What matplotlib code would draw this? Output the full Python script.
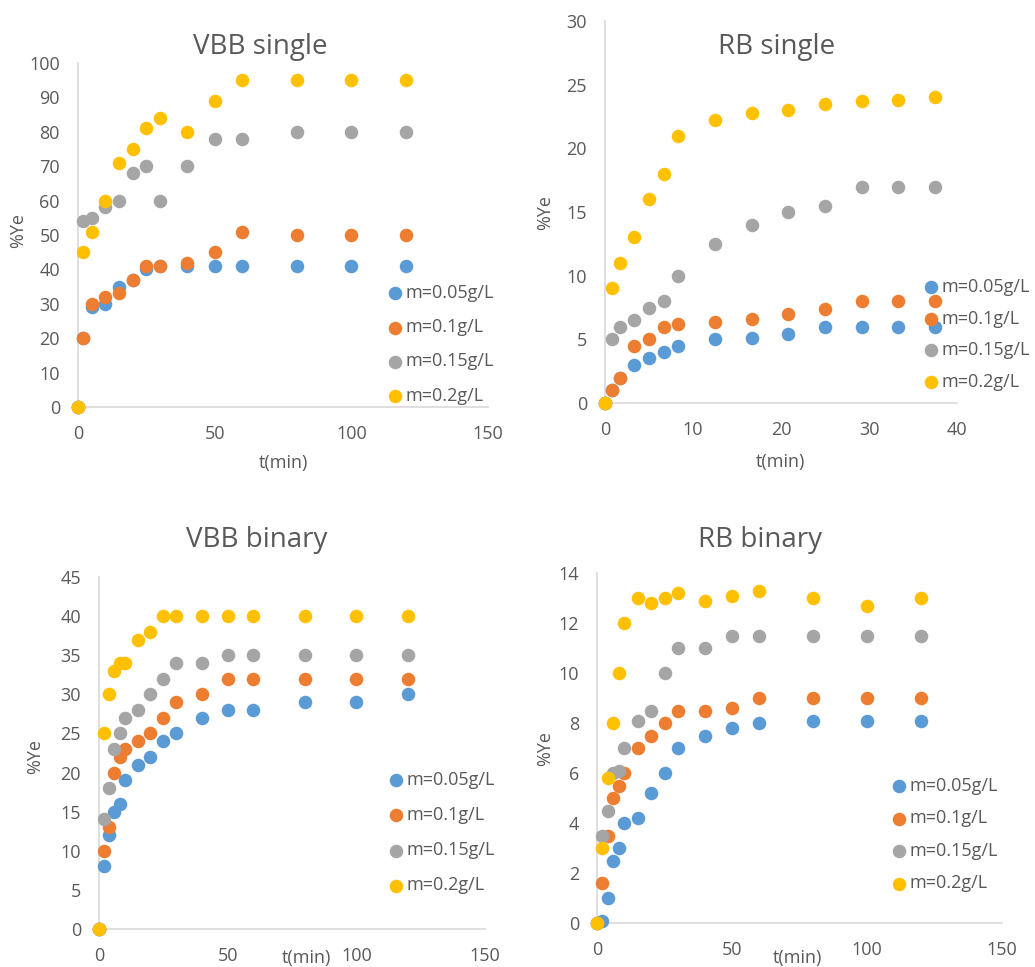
import matplotlib
matplotlib.use("Agg")
import matplotlib.pyplot as plt

plt.rcParams['font.family'] = ['Open Sans', 'DejaVu Sans']

labels = ['m=0.05g/L', 'm=0.1g/L', 'm=0.15g/L', 'm=0.2g/L']
colors = ['#5B9BD5', '#ED7D31', '#A5A5A5', '#FFC000']

# VBB single
t_vbb_s = [0, 2, 5, 10, 15, 20, 25, 30, 40, 50, 60, 80, 100, 120]
vbb_s_005 = [0, 20, 29, 30, 35, 37, 40, 41, 41, 41, 41, 41, 41, 41]
vbb_s_01 = [0, 20, 30, 32, 33, 37, 41, 41, 42, 45, 51, 50, 50, 50]
vbb_s_015 = [0, 54, 55, 58, 60, 68, 70, 60, 70, 78, 78, 80, 80, 80]
vbb_s_02 = [0, 45, 51, 60, 71, 75, 81, 84, 80, 89, 95, 95, 95, 95]

# RB single
t_rb_s = [0, 0.83, 1.67, 3.33, 5, 6.67, 8.33, 12.5, 16.67, 20.83, 25, 29.17, 33.33, 37.5]
rb_s_005 = [0, 1, 2, 3, 3.5, 4, 4.5, 5, 5.1, 5.4, 6, 6, 6, 6]
rb_s_01 = [0, 1, 2, 4.5, 5, 6, 6.2, 6.4, 6.6, 7, 7.4, 8, 8, 8]
rb_s_015 = [0, 5, 6, 6.5, 7.5, 8, 10, 12.5, 14, 15, 15.5, 17, 17, 17]
rb_s_02 = [0, 9, 11, 13, 16, 18, 21, 22.2, 22.8, 23, 23.5, 23.7, 23.8, 24]

# VBB binary
t_bin = [0, 2, 4, 6, 8, 10, 15, 20, 25, 30, 40, 50, 60, 80, 100, 120]
vbb_b_005 = [0, 8, 12, 15, 16, 19, 21, 22, 24, 25, 27, 28, 28, 29, 29, 30]
vbb_b_01 = [0, 10, 13, 20, 22, 23, 24, 25, 27, 29, 30, 32, 32, 32, 32, 32]
vbb_b_015 = [0, 14, 18, 23, 25, 27, 28, 30, 32, 34, 34, 35, 35, 35, 35, 35]
vbb_b_02 = [0, 25, 30, 33, 34, 34, 37, 38, 40, 40, 40, 40, 40, 40, 40, 40]

# RB binary
rb_b_005 = [0, 0.1, 1, 2.5, 3, 4, 4.2, 5.2, 6, 7, 7.5, 7.8, 8, 8.1, 8.1, 8.1]
rb_b_01 = [0, 1.6, 3.5, 5, 5.5, 6, 7, 7.5, 8, 8.5, 8.5, 8.6, 9, 9, 9, 9]
rb_b_015 = [0, 3.5, 4.5, 6, 6.1, 7, 8.1, 8.5, 10, 11, 11, 11.5, 11.5, 11.5, 11.5, 11.5]
rb_b_02 = [0, 3, 5.8, 8, 10, 12, 13, 12.8, 13, 13.2, 12.9, 13.1, 13.3, 13, 12.7, 13]

txt = '#595959'
axc = '#D9D9D9'

fig = plt.figure(figsize=(10.35, 9.67), dpi=100)


def panel(rect, t, series, xmax, xstep, ymax, ystep, title, tpos, xlpos, ylpos, legpos, lspace):
    ax = fig.add_axes(rect)
    for y, c, lab in zip(series, colors, labels):
        ax.scatter(t, y, s=95, color=c, label=lab, clip_on=False, zorder=3, linewidths=0)
    ax.set_xlim(0, xmax)
    ax.set_ylim(0, ymax)
    ax.set_xticks(range(0, xmax + 1, xstep))
    yt = [i * ystep for i in range(int(round(ymax / ystep)) + 1)]
    ax.set_yticks(yt)
    ax.set_yticklabels([('%g' % v) for v in yt])
    for s in ['top', 'right']:
        ax.spines[s].set_visible(False)
    for s in ['left', 'bottom']:
        ax.spines[s].set_color(axc)
        ax.spines[s].set_linewidth(1.2)
    ax.tick_params(length=0, labelsize=13, colors=txt, pad=13)
    fig.text(tpos[0], tpos[1], title, fontsize=20, color=txt, ha='center', va='center')
    fig.text(xlpos[0], xlpos[1], 't(min)', fontsize=13, color=txt, ha='center', va='center')
    fig.text(ylpos[0], ylpos[1], '%Ye', fontsize=13, color=txt, ha='center', va='center', rotation=90)
    fig.legend(*ax.get_legend_handles_labels(), loc='upper left', bbox_to_anchor=legpos,
               bbox_transform=fig.transFigure, frameon=False, fontsize=13, labelcolor=txt,
               borderpad=0, borderaxespad=0, handlelength=0.8, handletextpad=0.15,
               labelspacing=lspace, scatterpoints=1)
    return ax


W, H = 1035.0, 967.0


def fx(px):
    return px / W


def fy(py):
    return 1 - py / H


panel([fx(78), fy(407), fx(488) - fx(78), fy(63) - fy(407)], t_vbb_s,
      [vbb_s_005, vbb_s_01, vbb_s_015, vbb_s_02], 150, 50, 100, 10,
      'VBB single', (fx(260), fy(47)), (fx(283), fy(463)), (fx(18), fy(230)),
      (fx(388), fy(284)), 0.9)

panel([fx(605), fy(403), fx(957) - fx(605), fy(21) - fy(403)], t_rb_s,
      [rb_s_005, rb_s_01, rb_s_015, rb_s_02], 40, 10, 30, 5,
      'RB single', (fx(777), fy(47)), (fx(780), fy(462)), (fx(545), fy(212)),
      (fx(924), fy(278)), 0.75)

panel([fx(99), fy(929), fx(485) - fx(99), fy(577) - fy(929)], t_bin,
      [vbb_b_005, vbb_b_01, vbb_b_015, vbb_b_02], 150, 50, 45, 5,
      'VBB binary', (fx(257), fy(540)), (fx(306), fy(958)), (fx(35), fy(756)),
      (fx(389), fy(771)), 0.95)

panel([fx(597), fy(923), fx(1002) - fx(597), fy(573) - fy(923)], t_bin,
      [rb_b_005, rb_b_01, rb_b_015, rb_b_02], 150, 50, 14, 2,
      'RB binary', (fx(760), fy(540)), (fx(797), fy(958)), (fx(545), fy(748)),
      (fx(892), fy(777)), 0.8)

fig.savefig('out.png', dpi=100)
